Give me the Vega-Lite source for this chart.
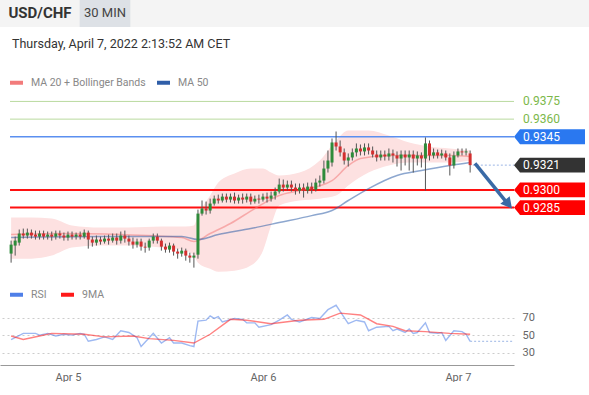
{
  "$schema": "https://vega.github.io/schema/vega-lite/v6.json",
  "padding": 0,
  "background": "white",
  "config": {"font": "Roboto", "view": {"stroke": null}},
  "datasets": {
    "candles": [
      {"t":"2022-04-04T17:00","o":0.92460,"h":0.92570,"l":0.92383,"c":0.92536},
      {"t":"2022-04-04T17:30","o":0.92528,"h":0.92604,"l":0.92443,"c":0.92570},
      {"t":"2022-04-04T18:00","o":0.92553,"h":0.92664,"l":0.92528,"c":0.92630},
      {"t":"2022-04-04T18:30","o":0.92630,"h":0.92672,"l":0.92587,"c":0.92613},
      {"t":"2022-04-04T19:00","o":0.92613,"h":0.92672,"l":0.92587,"c":0.92638},
      {"t":"2022-04-04T19:30","o":0.92638,"h":0.92664,"l":0.92587,"c":0.92613},
      {"t":"2022-04-04T20:00","o":0.92621,"h":0.92655,"l":0.92579,"c":0.92604},
      {"t":"2022-04-04T20:30","o":0.92604,"h":0.92655,"l":0.92579,"c":0.92630},
      {"t":"2022-04-04T21:00","o":0.92630,"h":0.92655,"l":0.92579,"c":0.92604},
      {"t":"2022-04-04T21:30","o":0.92604,"h":0.92647,"l":0.92579,"c":0.92621},
      {"t":"2022-04-04T22:00","o":0.92621,"h":0.92647,"l":0.92570,"c":0.92604},
      {"t":"2022-04-04T22:30","o":0.92604,"h":0.92655,"l":0.92579,"c":0.92630},
      {"t":"2022-04-04T23:00","o":0.92630,"h":0.92655,"l":0.92587,"c":0.92613},
      {"t":"2022-04-04T23:30","o":0.92613,"h":0.92638,"l":0.92570,"c":0.92596},
      {"t":"2022-04-05T00:00","o":0.92596,"h":0.92647,"l":0.92570,"c":0.92621},
      {"t":"2022-04-05T00:30","o":0.92621,"h":0.92647,"l":0.92579,"c":0.92604},
      {"t":"2022-04-05T01:00","o":0.92604,"h":0.92638,"l":0.92579,"c":0.92621},
      {"t":"2022-04-05T01:30","o":0.92621,"h":0.92647,"l":0.92579,"c":0.92604},
      {"t":"2022-04-05T02:00","o":0.92604,"h":0.92664,"l":0.92587,"c":0.92638},
      {"t":"2022-04-05T02:30","o":0.92638,"h":0.92655,"l":0.92502,"c":0.92579},
      {"t":"2022-04-05T03:00","o":0.92579,"h":0.92604,"l":0.92519,"c":0.92553},
      {"t":"2022-04-05T03:30","o":0.92553,"h":0.92613,"l":0.92528,"c":0.92579},
      {"t":"2022-04-05T04:00","o":0.92579,"h":0.92604,"l":0.92536,"c":0.92562},
      {"t":"2022-04-05T04:30","o":0.92562,"h":0.92613,"l":0.92545,"c":0.92587},
      {"t":"2022-04-05T05:00","o":0.92587,"h":0.92621,"l":0.92536,"c":0.92570},
      {"t":"2022-04-05T05:30","o":0.92570,"h":0.92630,"l":0.92553,"c":0.92596},
      {"t":"2022-04-05T06:00","o":0.92596,"h":0.92630,"l":0.92536,"c":0.92570},
      {"t":"2022-04-05T06:30","o":0.92570,"h":0.92647,"l":0.92545,"c":0.92613},
      {"t":"2022-04-05T07:00","o":0.92613,"h":0.92655,"l":0.92553,"c":0.92587},
      {"t":"2022-04-05T07:30","o":0.92587,"h":0.92613,"l":0.92528,"c":0.92562},
      {"t":"2022-04-05T08:00","o":0.92562,"h":0.92596,"l":0.92502,"c":0.92536},
      {"t":"2022-04-05T08:30","o":0.92536,"h":0.92587,"l":0.92511,"c":0.92562},
      {"t":"2022-04-05T09:00","o":0.92562,"h":0.92587,"l":0.92485,"c":0.92519},
      {"t":"2022-04-05T09:30","o":0.92519,"h":0.92553,"l":0.92468,"c":0.92511},
      {"t":"2022-04-05T10:00","o":0.92511,"h":0.92587,"l":0.92485,"c":0.92570},
      {"t":"2022-04-05T10:30","o":0.92570,"h":0.92630,"l":0.92545,"c":0.92604},
      {"t":"2022-04-05T11:00","o":0.92604,"h":0.92630,"l":0.92545,"c":0.92570},
      {"t":"2022-04-05T11:30","o":0.92570,"h":0.92587,"l":0.92485,"c":0.92519},
      {"t":"2022-04-05T12:00","o":0.92519,"h":0.92545,"l":0.92468,"c":0.92494},
      {"t":"2022-04-05T12:30","o":0.92494,"h":0.92553,"l":0.92468,"c":0.92528},
      {"t":"2022-04-05T13:00","o":0.92528,"h":0.92545,"l":0.92443,"c":0.92477},
      {"t":"2022-04-05T13:30","o":0.92477,"h":0.92502,"l":0.92417,"c":0.92460},
      {"t":"2022-04-05T14:00","o":0.92460,"h":0.92511,"l":0.92434,"c":0.92485},
      {"t":"2022-04-05T14:30","o":0.92485,"h":0.92502,"l":0.92400,"c":0.92443},
      {"t":"2022-04-05T15:00","o":0.92443,"h":0.92468,"l":0.92383,"c":0.92426},
      {"t":"2022-04-05T15:30","o":0.92426,"h":0.92468,"l":0.92341,"c":0.92443},
      {"t":"2022-04-05T16:00","o":0.92451,"h":0.92833,"l":0.92417,"c":0.92799},
      {"t":"2022-04-05T16:30","o":0.92799,"h":0.92910,"l":0.92782,"c":0.92842},
      {"t":"2022-04-05T17:00","o":0.92842,"h":0.92901,"l":0.92791,"c":0.92825},
      {"t":"2022-04-05T17:30","o":0.92825,"h":0.92926,"l":0.92799,"c":0.92884},
      {"t":"2022-04-05T18:00","o":0.92884,"h":0.92952,"l":0.92867,"c":0.92926},
      {"t":"2022-04-05T18:30","o":0.92926,"h":0.92960,"l":0.92884,"c":0.92910},
      {"t":"2022-04-05T19:00","o":0.92910,"h":0.92969,"l":0.92893,"c":0.92943},
      {"t":"2022-04-05T19:30","o":0.92943,"h":0.92969,"l":0.92893,"c":0.92918},
      {"t":"2022-04-05T20:00","o":0.92918,"h":0.92969,"l":0.92893,"c":0.92943},
      {"t":"2022-04-05T20:30","o":0.92943,"h":0.92977,"l":0.92884,"c":0.92910},
      {"t":"2022-04-05T21:00","o":0.92910,"h":0.92960,"l":0.92884,"c":0.92935},
      {"t":"2022-04-05T21:30","o":0.92935,"h":0.92969,"l":0.92884,"c":0.92918},
      {"t":"2022-04-05T22:00","o":0.92918,"h":0.92969,"l":0.92893,"c":0.92943},
      {"t":"2022-04-05T22:30","o":0.92943,"h":0.92969,"l":0.92876,"c":0.92901},
      {"t":"2022-04-05T23:00","o":0.92901,"h":0.92952,"l":0.92884,"c":0.92926},
      {"t":"2022-04-05T23:30","o":0.92926,"h":0.92960,"l":0.92884,"c":0.92918},
      {"t":"2022-04-06T00:00","o":0.92918,"h":0.92969,"l":0.92901,"c":0.92943},
      {"t":"2022-04-06T00:30","o":0.92943,"h":0.92977,"l":0.92893,"c":0.92926},
      {"t":"2022-04-06T01:00","o":0.92926,"h":0.92986,"l":0.92901,"c":0.92952},
      {"t":"2022-04-06T01:30","o":0.92952,"h":0.93020,"l":0.92918,"c":0.92986},
      {"t":"2022-04-06T02:00","o":0.92986,"h":0.93096,"l":0.92969,"c":0.93045},
      {"t":"2022-04-06T02:30","o":0.93045,"h":0.93088,"l":0.92986,"c":0.93020},
      {"t":"2022-04-06T03:00","o":0.93020,"h":0.93079,"l":0.92994,"c":0.93045},
      {"t":"2022-04-06T03:30","o":0.93045,"h":0.93079,"l":0.92986,"c":0.93020},
      {"t":"2022-04-06T04:00","o":0.93020,"h":0.93054,"l":0.92960,"c":0.92994},
      {"t":"2022-04-06T04:30","o":0.92994,"h":0.93054,"l":0.92969,"c":0.93020},
      {"t":"2022-04-06T05:00","o":0.93020,"h":0.93054,"l":0.92935,"c":0.92994},
      {"t":"2022-04-06T05:30","o":0.92994,"h":0.93062,"l":0.92969,"c":0.93028},
      {"t":"2022-04-06T06:00","o":0.93028,"h":0.93062,"l":0.92969,"c":0.93003},
      {"t":"2022-04-06T06:30","o":0.93003,"h":0.93096,"l":0.92986,"c":0.93062},
      {"t":"2022-04-06T07:00","o":0.93062,"h":0.93122,"l":0.93028,"c":0.93079},
      {"t":"2022-04-06T07:30","o":0.93079,"h":0.93249,"l":0.93054,"c":0.93181},
      {"t":"2022-04-06T08:00","o":0.93181,"h":0.93334,"l":0.93147,"c":0.93249},
      {"t":"2022-04-06T08:30","o":0.93232,"h":0.93436,"l":0.93198,"c":0.93402},
      {"t":"2022-04-06T09:00","o":0.93402,"h":0.93495,"l":0.93334,"c":0.93368},
      {"t":"2022-04-06T09:30","o":0.93368,"h":0.93419,"l":0.93283,"c":0.93318},
      {"t":"2022-04-06T10:00","o":0.93318,"h":0.93351,"l":0.93215,"c":0.93249},
      {"t":"2022-04-06T10:30","o":0.93249,"h":0.93309,"l":0.93198,"c":0.93275},
      {"t":"2022-04-06T11:00","o":0.93275,"h":0.93351,"l":0.93249,"c":0.93318},
      {"t":"2022-04-06T11:30","o":0.93318,"h":0.93394,"l":0.93283,"c":0.93351},
      {"t":"2022-04-06T12:00","o":0.93351,"h":0.93385,"l":0.93292,"c":0.93326},
      {"t":"2022-04-06T12:30","o":0.93326,"h":0.93394,"l":0.93292,"c":0.93360},
      {"t":"2022-04-06T13:00","o":0.93360,"h":0.93394,"l":0.93300,"c":0.93334},
      {"t":"2022-04-06T13:30","o":0.93334,"h":0.93368,"l":0.93275,"c":0.93300},
      {"t":"2022-04-06T14:00","o":0.93300,"h":0.93334,"l":0.93241,"c":0.93275},
      {"t":"2022-04-06T14:30","o":0.93275,"h":0.93334,"l":0.93249,"c":0.93300},
      {"t":"2022-04-06T15:00","o":0.93300,"h":0.93334,"l":0.93249,"c":0.93283},
      {"t":"2022-04-06T15:30","o":0.93283,"h":0.93351,"l":0.93249,"c":0.93309},
      {"t":"2022-04-06T16:00","o":0.93309,"h":0.93342,"l":0.93232,"c":0.93292},
      {"t":"2022-04-06T16:30","o":0.93292,"h":0.93326,"l":0.93198,"c":0.93266},
      {"t":"2022-04-06T17:00","o":0.93266,"h":0.93334,"l":0.93164,"c":0.93300},
      {"t":"2022-04-06T17:30","o":0.93300,"h":0.93334,"l":0.93207,"c":0.93275},
      {"t":"2022-04-06T18:00","o":0.93275,"h":0.93334,"l":0.93164,"c":0.93300},
      {"t":"2022-04-06T18:30","o":0.93300,"h":0.93334,"l":0.93147,"c":0.93266},
      {"t":"2022-04-06T19:00","o":0.93266,"h":0.93326,"l":0.93207,"c":0.93292},
      {"t":"2022-04-06T19:30","o":0.93292,"h":0.93318,"l":0.93190,"c":0.93266},
      {"t":"2022-04-06T20:00","o":0.93266,"h":0.93445,"l":0.92994,"c":0.93394},
      {"t":"2022-04-06T20:30","o":0.93394,"h":0.93419,"l":0.93249,"c":0.93292},
      {"t":"2022-04-06T21:00","o":0.93292,"h":0.93351,"l":0.93266,"c":0.93318},
      {"t":"2022-04-06T21:30","o":0.93318,"h":0.93342,"l":0.93266,"c":0.93292},
      {"t":"2022-04-06T22:00","o":0.93292,"h":0.93342,"l":0.93266,"c":0.93309},
      {"t":"2022-04-06T22:30","o":0.93309,"h":0.93334,"l":0.93249,"c":0.93275},
      {"t":"2022-04-06T23:00","o":0.93275,"h":0.93309,"l":0.93122,"c":0.93207},
      {"t":"2022-04-06T23:30","o":0.93207,"h":0.93326,"l":0.93181,"c":0.93292},
      {"t":"2022-04-07T00:00","o":0.93292,"h":0.93351,"l":0.93275,"c":0.93326},
      {"t":"2022-04-07T00:30","o":0.93326,"h":0.93351,"l":0.93292,"c":0.93318},
      {"t":"2022-04-07T01:00","o":0.93318,"h":0.93351,"l":0.93292,"c":0.93326},
      {"t":"2022-04-07T01:30","o":0.93309,"h":0.93334,"l":0.93147,"c":0.93210}
    ],
    "bands": [
      {"t":"2022-04-04T17:00","up":0.92765,"lo":0.92417},
      {"t":"2022-04-04T19:30","up":0.92765,"lo":0.92417},
      {"t":"2022-04-04T22:00","up":0.92757,"lo":0.92443},
      {"t":"2022-04-05T00:30","up":0.92698,"lo":0.92511},
      {"t":"2022-04-05T04:00","up":0.92681,"lo":0.92528},
      {"t":"2022-04-05T07:30","up":0.92681,"lo":0.92528},
      {"t":"2022-04-05T11:30","up":0.92689,"lo":0.92511},
      {"t":"2022-04-05T14:30","up":0.92689,"lo":0.92485},
      {"t":"2022-04-05T15:30","up":0.92698,"lo":0.92443},
      {"t":"2022-04-05T16:00","up":0.92782,"lo":0.92383},
      {"t":"2022-04-05T17:30","up":0.92952,"lo":0.92332},
      {"t":"2022-04-05T18:30","up":0.93062,"lo":0.92307},
      {"t":"2022-04-05T20:30","up":0.93139,"lo":0.92315},
      {"t":"2022-04-05T22:30","up":0.93181,"lo":0.92358},
      {"t":"2022-04-06T00:00","up":0.93181,"lo":0.92485},
      {"t":"2022-04-06T01:00","up":0.93147,"lo":0.92698},
      {"t":"2022-04-06T02:00","up":0.93122,"lo":0.92867},
      {"t":"2022-04-06T04:30","up":0.93147,"lo":0.92910},
      {"t":"2022-04-06T07:00","up":0.93249,"lo":0.92926},
      {"t":"2022-04-06T09:00","up":0.93419,"lo":0.92952},
      {"t":"2022-04-06T10:30","up":0.93504,"lo":0.93037},
      {"t":"2022-04-06T13:00","up":0.93504,"lo":0.93147},
      {"t":"2022-04-06T15:30","up":0.93461,"lo":0.93207},
      {"t":"2022-04-06T18:00","up":0.93402,"lo":0.93232},
      {"t":"2022-04-06T20:30","up":0.93368,"lo":0.93232},
      {"t":"2022-04-06T23:00","up":0.93351,"lo":0.93232},
      {"t":"2022-04-07T01:30","up":0.93334,"lo":0.93249}
    ],
    "ma": [
      {"t":"2022-04-04T17:00","s":"MA 20 + Bollinger Bands","v":0.92621},
      {"t":"2022-04-04T23:00","s":"MA 20 + Bollinger Bands","v":0.92630},
      {"t":"2022-04-05T06:30","s":"MA 20 + Bollinger Bands","v":0.92621},
      {"t":"2022-04-05T14:00","s":"MA 20 + Bollinger Bands","v":0.92596},
      {"t":"2022-04-05T15:30","s":"MA 20 + Bollinger Bands","v":0.92562},
      {"t":"2022-04-05T17:30","s":"MA 20 + Bollinger Bands","v":0.92630},
      {"t":"2022-04-05T20:00","s":"MA 20 + Bollinger Bands","v":0.92715},
      {"t":"2022-04-05T23:00","s":"MA 20 + Bollinger Bands","v":0.92842},
      {"t":"2022-04-06T02:00","s":"MA 20 + Bollinger Bands","v":0.92952},
      {"t":"2022-04-06T04:30","s":"MA 20 + Bollinger Bands","v":0.92994},
      {"t":"2022-04-06T08:30","s":"MA 20 + Bollinger Bands","v":0.93079},
      {"t":"2022-04-06T10:30","s":"MA 20 + Bollinger Bands","v":0.93207},
      {"t":"2022-04-06T12:00","s":"MA 20 + Bollinger Bands","v":0.93266},
      {"t":"2022-04-06T15:30","s":"MA 20 + Bollinger Bands","v":0.93292},
      {"t":"2022-04-06T19:30","s":"MA 20 + Bollinger Bands","v":0.93292},
      {"t":"2022-04-06T23:00","s":"MA 20 + Bollinger Bands","v":0.93292},
      {"t":"2022-04-07T01:30","s":"MA 20 + Bollinger Bands","v":0.93283},
      {"t":"2022-04-04T17:00","s":"MA 50","v":0.92596},
      {"t":"2022-04-05T04:00","s":"MA 50","v":0.92604},
      {"t":"2022-04-05T14:00","s":"MA 50","v":0.92604},
      {"t":"2022-04-05T16:00","s":"MA 50","v":0.92579},
      {"t":"2022-04-05T18:30","s":"MA 50","v":0.92621},
      {"t":"2022-04-05T22:30","s":"MA 50","v":0.92672},
      {"t":"2022-04-06T02:00","s":"MA 50","v":0.92723},
      {"t":"2022-04-06T06:00","s":"MA 50","v":0.92782},
      {"t":"2022-04-06T08:30","s":"MA 50","v":0.92825},
      {"t":"2022-04-06T10:30","s":"MA 50","v":0.92910},
      {"t":"2022-04-06T13:00","s":"MA 50","v":0.93011},
      {"t":"2022-04-06T16:30","s":"MA 50","v":0.93122},
      {"t":"2022-04-06T19:30","s":"MA 50","v":0.93164},
      {"t":"2022-04-06T23:00","s":"MA 50","v":0.93207},
      {"t":"2022-04-07T01:30","s":"MA 50","v":0.93232}
    ],
    "levels": [
      {"v":0.9375,"kind":"res"},
      {"v":0.9360,"kind":"res"},
      {"v":0.9345,"kind":"pivot"},
      {"v":0.9321,"kind":"last"},
      {"v":0.9300,"kind":"sup"},
      {"v":0.9285,"kind":"sup"}
    ],
    "arrow": [
      {"t":"2022-04-07T02:06","v":0.93224,"t2":"2022-04-07T05:55","v2":0.92901,"tipT":"2022-04-07T06:39","tipV":0.92842}
    ],
    "rsi": [
      {"t":"2022-04-04T17:00","s":"RSI","v":45},
      {"t":"2022-04-04T18:30","s":"RSI","v":52},
      {"t":"2022-04-04T20:00","s":"RSI","v":52},
      {"t":"2022-04-04T20:30","s":"RSI","v":50},
      {"t":"2022-04-04T21:30","s":"RSI","v":52},
      {"t":"2022-04-04T22:30","s":"RSI","v":49},
      {"t":"2022-04-04T23:30","s":"RSI","v":51},
      {"t":"2022-04-05T00:30","s":"RSI","v":50},
      {"t":"2022-04-05T01:30","s":"RSI","v":52},
      {"t":"2022-04-05T02:00","s":"RSI","v":51},
      {"t":"2022-04-05T02:30","s":"RSI","v":43},
      {"t":"2022-04-05T03:30","s":"RSI","v":45},
      {"t":"2022-04-05T04:30","s":"RSI","v":48},
      {"t":"2022-04-05T05:30","s":"RSI","v":45},
      {"t":"2022-04-05T06:30","s":"RSI","v":55},
      {"t":"2022-04-05T07:30","s":"RSI","v":53},
      {"t":"2022-04-05T08:30","s":"RSI","v":47},
      {"t":"2022-04-05T09:00","s":"RSI","v":37},
      {"t":"2022-04-05T10:00","s":"RSI","v":47},
      {"t":"2022-04-05T10:30","s":"RSI","v":52},
      {"t":"2022-04-05T11:30","s":"RSI","v":41},
      {"t":"2022-04-05T12:30","s":"RSI","v":47},
      {"t":"2022-04-05T13:00","s":"RSI","v":41},
      {"t":"2022-04-05T14:00","s":"RSI","v":41},
      {"t":"2022-04-05T15:00","s":"RSI","v":38},
      {"t":"2022-04-05T15:30","s":"RSI","v":37},
      {"t":"2022-04-05T16:00","s":"RSI","v":66},
      {"t":"2022-04-05T17:00","s":"RSI","v":67},
      {"t":"2022-04-05T17:30","s":"RSI","v":72},
      {"t":"2022-04-05T18:00","s":"RSI","v":69},
      {"t":"2022-04-05T18:30","s":"RSI","v":71},
      {"t":"2022-04-05T19:00","s":"RSI","v":65},
      {"t":"2022-04-05T20:30","s":"RSI","v":69},
      {"t":"2022-04-05T21:30","s":"RSI","v":68},
      {"t":"2022-04-05T22:00","s":"RSI","v":64},
      {"t":"2022-04-05T23:00","s":"RSI","v":64},
      {"t":"2022-04-05T23:30","s":"RSI","v":59},
      {"t":"2022-04-06T01:00","s":"RSI","v":62},
      {"t":"2022-04-06T02:00","s":"RSI","v":67},
      {"t":"2022-04-06T03:00","s":"RSI","v":73},
      {"t":"2022-04-06T03:30","s":"RSI","v":68},
      {"t":"2022-04-06T04:30","s":"RSI","v":65},
      {"t":"2022-04-06T06:00","s":"RSI","v":70},
      {"t":"2022-04-06T07:00","s":"RSI","v":69},
      {"t":"2022-04-06T08:00","s":"RSI","v":79},
      {"t":"2022-04-06T09:00","s":"RSI","v":84},
      {"t":"2022-04-06T09:30","s":"RSI","v":77},
      {"t":"2022-04-06T10:30","s":"RSI","v":63},
      {"t":"2022-04-06T11:30","s":"RSI","v":67},
      {"t":"2022-04-06T12:30","s":"RSI","v":65},
      {"t":"2022-04-06T13:00","s":"RSI","v":55},
      {"t":"2022-04-06T14:00","s":"RSI","v":59},
      {"t":"2022-04-06T15:30","s":"RSI","v":60},
      {"t":"2022-04-06T16:00","s":"RSI","v":55},
      {"t":"2022-04-06T16:30","s":"RSI","v":57},
      {"t":"2022-04-06T17:30","s":"RSI","v":53},
      {"t":"2022-04-06T18:00","s":"RSI","v":57},
      {"t":"2022-04-06T18:30","s":"RSI","v":52},
      {"t":"2022-04-06T19:00","s":"RSI","v":53},
      {"t":"2022-04-06T20:00","s":"RSI","v":64},
      {"t":"2022-04-06T20:30","s":"RSI","v":53},
      {"t":"2022-04-06T21:30","s":"RSI","v":52},
      {"t":"2022-04-06T22:00","s":"RSI","v":53},
      {"t":"2022-04-06T22:30","s":"RSI","v":44},
      {"t":"2022-04-06T23:30","s":"RSI","v":55},
      {"t":"2022-04-07T00:30","s":"RSI","v":54},
      {"t":"2022-04-07T01:00","s":"RSI","v":51},
      {"t":"2022-04-07T01:30","s":"RSI","v":43},
      {"t":"2022-04-04T17:00","s":"9MA","v":49},
      {"t":"2022-04-04T18:30","s":"9MA","v":45},
      {"t":"2022-04-04T20:30","s":"9MA","v":49},
      {"t":"2022-04-04T22:00","s":"9MA","v":52},
      {"t":"2022-04-05T02:00","s":"9MA","v":51},
      {"t":"2022-04-05T04:30","s":"9MA","v":48},
      {"t":"2022-04-05T08:00","s":"9MA","v":49},
      {"t":"2022-04-05T10:00","s":"9MA","v":46},
      {"t":"2022-04-05T13:00","s":"9MA","v":44},
      {"t":"2022-04-05T15:30","s":"9MA","v":41},
      {"t":"2022-04-05T17:30","s":"9MA","v":51},
      {"t":"2022-04-05T20:00","s":"9MA","v":68},
      {"t":"2022-04-05T22:00","s":"9MA","v":67},
      {"t":"2022-04-06T01:00","s":"9MA","v":63},
      {"t":"2022-04-06T04:30","s":"9MA","v":67},
      {"t":"2022-04-06T07:30","s":"9MA","v":68},
      {"t":"2022-04-06T09:30","s":"9MA","v":75},
      {"t":"2022-04-06T12:00","s":"9MA","v":73},
      {"t":"2022-04-06T14:00","s":"9MA","v":63},
      {"t":"2022-04-06T16:00","s":"9MA","v":60},
      {"t":"2022-04-06T17:30","s":"9MA","v":55},
      {"t":"2022-04-06T20:00","s":"9MA","v":54},
      {"t":"2022-04-06T23:00","s":"9MA","v":52},
      {"t":"2022-04-07T01:30","s":"9MA","v":51}
    ],
    "rsiLast": [{"t":"2022-04-07T01:30","v":43}]
  },
  "spacing": 10,
  "resolve": {"scale": {"color": "independent"}, "legend": {"color": "independent"}},
  "vconcat": [
    {
      "width": 589,
      "height": 27,
      "view": {"fill": "#f4f4f4", "stroke": null},
      "data": {"values": [{"label": "USD/CHF"}, {"label": "30 MIN"}]},
      "encoding": {
        "x": {"field": "label", "type": "nominal", "axis": null,
              "scale": {"domain": ["USD/CHF", "30 MIN"], "range": [7.5, 137.5], "paddingInner": 0, "paddingOuter": 0}}
      },
      "layer": [
        {"transform": [{"filter": "datum.label == '30 MIN'"}],
         "mark": {"type": "bar", "color": "#dde1e6", "width": {"band": 0.78}}},
        {"transform": [{"filter": "datum.label == 'USD/CHF'"}],
         "mark": {"type": "text", "fontSize": 15, "fontWeight": "bold", "color": "#333", "dy": -1},
         "encoding": {"text": {"field": "label"}}},
        {"transform": [{"filter": "datum.label == '30 MIN'"}],
         "mark": {"type": "text", "fontSize": 13, "color": "#444", "dy": -1},
         "encoding": {"text": {"field": "label"}}}
      ]
    },
    {
      "spacing": 10,
      "resolve": {"scale": {"color": "independent"}, "legend": {"color": "independent"}},
      "vconcat": [
        {
          "width": 514,
          "height": 184,
          "title": {"text": "Thursday, April 7, 2022 2:13:52 AM CET", "anchor": "start", "fontSize": 12.5,
                    "fontWeight": "normal", "color": "#333", "dx": 12, "offset": 24},
          "layer": [
            {
              "data": {"name": "bands"},
              "mark": {"type": "area", "color": "#fde1e1", "interpolate": "monotone"},
              "encoding": {
                "x": {"field": "t", "type": "temporal",
                      "scale": {"domain": [{"year":2022,"month":4,"date":4,"hours":15,"minutes":38},{"year":2022,"month":4,"date":7,"hours":6,"minutes":54}], "nice": false, "padding": 0},
                      "axis": {"orient": "top", "labels": false, "ticks": false, "domain": false, "grid": false,
                               "title": "Research © 2022 Trading Central", "titleX": 579, "titleY": -12,
                               "titleAlign": "right", "titleBaseline": "middle", "titleFontSize": 11.5,
                               "titleFontWeight": "normal", "titleColor": "#aaa"}},
                "y": {"field": "up", "type": "quantitative", "scale": {"domain": [0.9227, 0.9383], "zero": false, "nice": false, "padding": 0}, "axis": null},
                "y2": {"field": "lo"}
              }
            },
            {
              "data": {"name": "levels"},
              "transform": [{"filter": "datum.kind != 'last'"}],
              "mark": {"type": "rule"},
              "encoding": {
                "x": {"datum": {"year":2022,"month":4,"date":4,"hours":16,"minutes":52}, "type": "temporal", "axis": null},
                "x2": {"datum": {"year":2022,"month":4,"date":7,"hours":6,"minutes":54}},
                "y": {"field": "v", "type": "quantitative", "axis": null},
                "color": {"condition": [{"test": "datum.kind == 'res'", "value": "#b9da9f"}, {"test": "datum.kind == 'pivot'", "value": "#5b8ff0"}], "value": "#ff1010"},
                "strokeWidth": {"condition": [{"test": "datum.kind == 'res'", "value": 1}, {"test": "datum.kind == 'pivot'", "value": 1.5}], "value": 2}
              }
            },
            {
              "data": {"name": "levels"},
              "transform": [{"filter": "datum.kind == 'last'"}],
              "mark": {"type": "rule", "color": "#9bb5e5", "strokeDash": [2, 2], "strokeWidth": 1},
              "encoding": {
                "x": {"datum": {"year":2022,"month":4,"date":7,"hours":1,"minutes":50}, "type": "temporal", "axis": null},
                "x2": {"datum": {"year":2022,"month":4,"date":7,"hours":6,"minutes":54}},
                "y": {"field": "v", "type": "quantitative", "axis": null}
              }
            },
            {
              "data": {"name": "ma"},
              "mark": {"type": "line", "strokeWidth": 1.5, "strokeOpacity": 0.55, "interpolate": "monotone"},
              "encoding": {
                "x": {"field": "t", "type": "temporal", "axis": null},
                "y": {"field": "v", "type": "quantitative", "axis": null},
                "color": {"field": "s", "type": "nominal",
                          "scale": {"domain": ["MA 20 + Bollinger Bands", "MA 50"], "range": ["#f27b7b", "#2f5ea8"]},
                          "legend": {"orient": "none", "legendX": 8, "legendY": -18, "direction": "horizontal", "title": null,
                                     "symbolType": "stroke", "symbolStrokeWidth": 4, "symbolSize": 169, "symbolOpacity": 1,
                                     "labelFontSize": 10.5, "labelColor": "#888", "labelOffset": 6, "columnPadding": 3}}
              }
            },
            {
              "data": {"name": "candles"},
              "mark": {"type": "rule", "color": "#555", "strokeWidth": 1},
              "encoding": {
                "x": {"field": "t", "type": "temporal", "axis": null},
                "y": {"field": "l", "type": "quantitative", "axis": null},
                "y2": {"field": "h"}
              }
            },
            {
              "data": {"name": "candles"},
              "mark": {"type": "bar", "width": 3},
              "encoding": {
                "x": {"field": "t", "type": "temporal", "axis": null},
                "y": {"field": "o", "type": "quantitative", "axis": null},
                "y2": {"field": "c"},
                "color": {"condition": {"test": "datum.c >= datum.o", "value": "#2e8b3a"}, "value": "#d32f2f"}
              }
            },
            {
              "data": {"name": "arrow"},
              "mark": {"type": "rule", "color": "#3a6aa6", "strokeWidth": 3.5},
              "encoding": {
                "x": {"field": "t", "type": "temporal", "axis": null},
                "y": {"field": "v", "type": "quantitative", "axis": null},
                "x2": {"field": "t2"},
                "y2": {"field": "v2"}
              }
            },
            {
              "data": {"name": "arrow"},
              "mark": {"type": "point", "shape": "M 0 0 L -1 -0.55 L -1 0.55 Z", "filled": true, "opacity": 1,
                       "color": "#3a6aa6", "size": 484, "angle": 50.6, "strokeWidth": 0},
              "encoding": {
                "x": {"field": "tipT", "type": "temporal", "axis": null},
                "y": {"field": "tipV", "type": "quantitative", "axis": null}
              }
            },
            {
              "data": {"name": "levels"},
              "transform": [{"filter": "datum.kind != 'res'"}],
              "mark": {"type": "point", "shape": "M 0 0 L 0.17 -0.21 L 2 -0.21 L 2 0.21 L 0.17 0.21 Z",
                       "filled": true, "opacity": 1, "size": 5041, "strokeWidth": 0},
              "encoding": {
                "x": {"datum": {"year":2022,"month":4,"date":7,"hours":6,"minutes":54}, "type": "temporal", "axis": null},
                "y": {"field": "v", "type": "quantitative", "axis": null},
                "color": {"condition": [{"test": "datum.kind == 'pivot'", "value": "#2a78f0"}, {"test": "datum.kind == 'last'", "value": "#333333"}], "value": "#ff0000"}
              }
            },
            {
              "data": {"name": "levels"},
              "mark": {"type": "text", "align": "left", "baseline": "middle", "dx": 9, "fontSize": 12},
              "encoding": {
                "x": {"datum": {"year":2022,"month":4,"date":7,"hours":6,"minutes":54}, "type": "temporal", "axis": null},
                "y": {"field": "v", "type": "quantitative", "axis": null},
                "text": {"field": "v", "type": "quantitative", "format": ".4f"},
                "color": {"condition": {"test": "datum.kind == 'res'", "value": "#7cb84a"}, "value": "#ffffff"}
              }
            }
          ]
        },
        {
          "width": 514,
          "height": 65,
          "encoding": {
            "x": {"field": "t", "type": "temporal",
                  "scale": {"domain": [{"year":2022,"month":4,"date":4,"hours":15,"minutes":38},{"year":2022,"month":4,"date":7,"hours":6,"minutes":54}], "nice": false, "padding": 0},
                  "axis": {"values": [{"year":2022,"month":4,"date":5},{"year":2022,"month":4,"date":6},{"year":2022,"month":4,"date":7}],
                           "format": "%b %-d", "ticks": false, "grid": false, "domain": true, "domainColor": "#999", "labelColor": "#666",
                           "labelFontSize": 11, "labelPadding": 6, "title": null}},
            "y": {"field": "v", "type": "quantitative",
                  "scale": {"domain": [16, 90], "zero": false, "nice": false},
                  "axis": {"orient": "right", "values": [30, 50, 70], "grid": true, "gridDash": [2, 3], "gridColor": "#ccc",
                           "domain": false, "ticks": false, "labelColor": "#666", "labelFontSize": 11, "labelPadding": 8, "title": null}}
          },
          "layer": [
            {
              "data": {"name": "rsi"},
              "mark": {"type": "line", "strokeWidth": 1.4, "strokeOpacity": 0.55},
              "encoding": {
                "color": {"field": "s", "type": "nominal",
                          "scale": {"domain": ["RSI", "9MA"], "range": ["#4f7fe8", "#ff1a1a"]},
                          "legend": {"orient": "none", "legendX": 8, "legendY": -14, "direction": "horizontal", "title": null,
                                     "symbolType": "stroke", "symbolStrokeWidth": 4, "symbolSize": 169, "symbolOpacity": 1,
                                     "labelFontSize": 10.5, "labelColor": "#888", "labelOffset": 6, "columnPadding": 6}}
              }
            },
            {
              "data": {"name": "rsiLast"},
              "mark": {"type": "rule", "color": "#9bb5e5", "strokeDash": [2, 2], "strokeWidth": 1},
              "encoding": {
                "x2": {"datum": {"year":2022,"month":4,"date":7,"hours":6,"minutes":54}}
              }
            }
          ]
        }
      ]
    }
  ]
}
